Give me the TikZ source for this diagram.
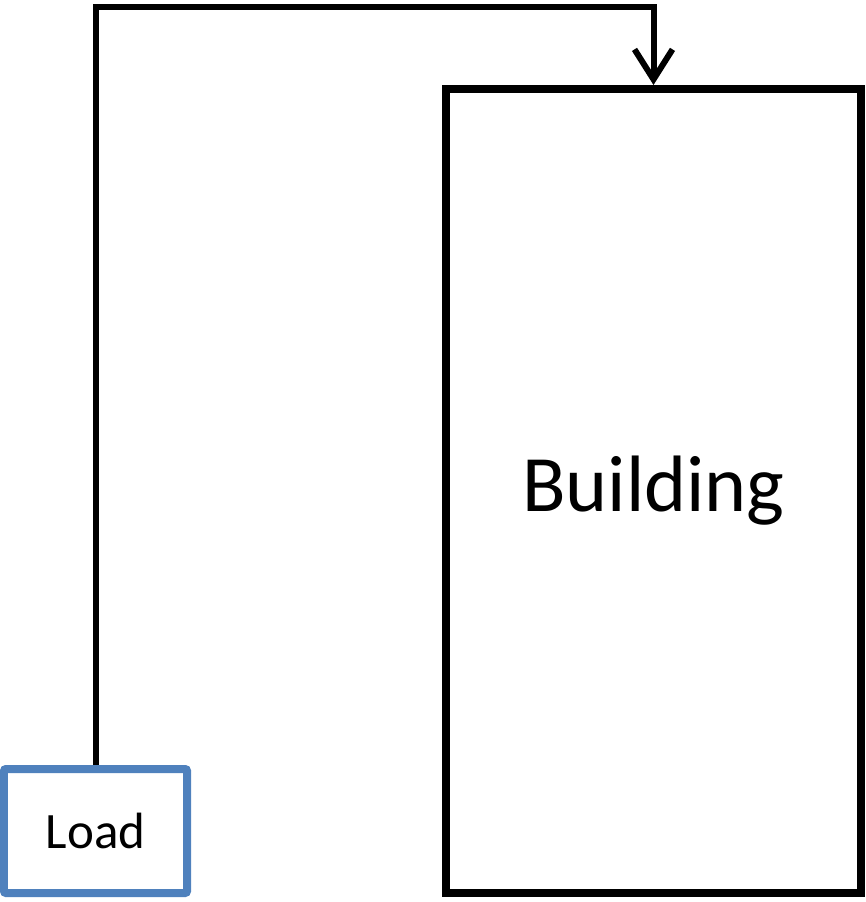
\documentclass[tikz,border=0pt]{standalone}
\usepackage{fontspec}
\setmainfont{Carlito}
\usetikzlibrary{arrows.meta}

\definecolor{loadblue}{HTML}{4F81BD}

\begin{document}
\begin{tikzpicture}[x=1bp, y=-1bp,
        bldgbox/.style={draw, line width=8bp, minimum width=415bp, minimum height=804bp,
                        inner sep=0pt, font=\fontsize{80bp}{96bp}\selectfont},
        loadbox/.style={draw=loadblue, line width=8bp, rounded corners=2bp, minimum width=183bp,
                        minimum height=124bp, inner sep=0pt, font=\fontsize{51bp}{61bp}\selectfont}]

        \useasboundingbox (0,0) rectangle (866,902);

        % Building on the right
        \node[bldgbox] (building) at (653.5,491) {Building};

        % Load box in the lower left corner
        \node[loadbox] (load) at (95.5,831) {Load};

        % Connector from the load up and over to the building
        \coordinate (bend) at (95.5,7);
        \draw[-{Straight Barb[length=30bp, width=38bp]}, line width=6bp]
            (load.north) -- (bend) -| (building.north);

\end{tikzpicture}
\end{document}
